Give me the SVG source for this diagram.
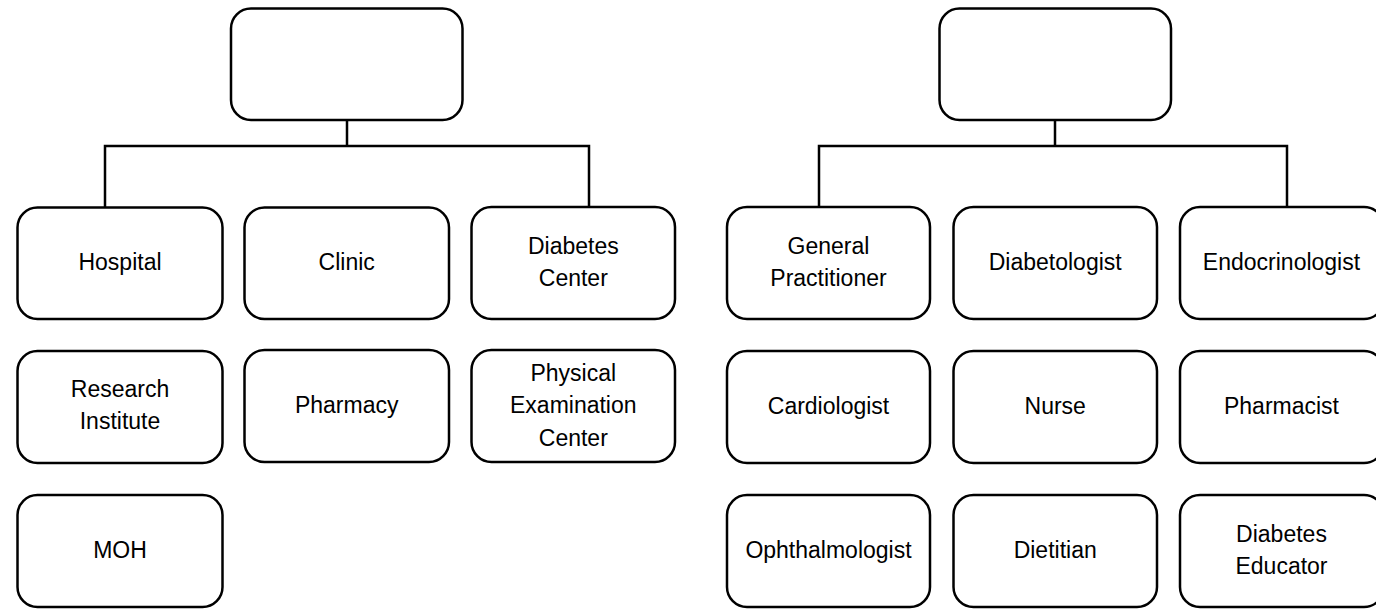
<svg xmlns="http://www.w3.org/2000/svg" width="1376" height="609" viewBox="0 0 1376 609">
<style>
.box{fill:#fff;stroke:#000;stroke-width:2.5}
.lbl{font-family:"Liberation Sans",Arial,sans-serif;font-size:23px;fill:#000;text-anchor:middle}
.con{fill:none;stroke:#000;stroke-width:2.5}
</style>
<rect width="1376" height="609" fill="#fff"/>
<g id="connectors">
<path class="con" d="M347,120 V146 M105,207 V146 H589 V207"/>
<path class="con" d="M1055,120 V146 M819,207 V146 H1287 V207"/>
</g>
<g id="root-left"><rect class="box" x="231" y="8.5" width="231.5" height="111.5" rx="20"/></g>
<g id="root-right"><rect class="box" x="939.5" y="8.5" width="231.5" height="111.5" rx="20"/></g>

<g id="hospital"><rect class="box" x="17.5" y="207.5" width="205" height="111.5" rx="20"/><text class="lbl" x="120" y="270">Hospital</text></g>
<g id="clinic"><rect class="box" x="244.5" y="207.5" width="204.5" height="111.5" rx="20"/><text class="lbl" x="346.7" y="270">Clinic</text></g>
<g id="diabetes-center"><rect class="box" x="471.5" y="207" width="203.5" height="112" rx="20"/><text class="lbl" x="573.3" y="254">Diabetes</text><text class="lbl" x="573.3" y="286">Center</text></g>

<g id="research-institute"><rect class="box" x="17.5" y="351" width="205" height="112" rx="20"/><text class="lbl" x="120" y="397">Research</text><text class="lbl" x="120" y="429">Institute</text></g>
<g id="pharmacy"><rect class="box" x="244.5" y="350" width="204.5" height="112" rx="20"/><text class="lbl" x="346.7" y="413">Pharmacy</text></g>
<g id="physical-exam"><rect class="box" x="471.5" y="350" width="203.5" height="112" rx="20"/><text class="lbl" x="573.3" y="380.5">Physical</text><text class="lbl" x="573.3" y="413">Examination</text><text class="lbl" x="573.3" y="445.5">Center</text></g>

<g id="moh"><rect class="box" x="17.5" y="495" width="205" height="112" rx="20"/><text class="lbl" x="120" y="558">MOH</text></g>

<g id="gp"><rect class="box" x="727" y="207" width="203" height="112" rx="20"/><text class="lbl" x="828.5" y="254">General</text><text class="lbl" x="828.5" y="286">Practitioner</text></g>
<g id="diabetologist"><rect class="box" x="953.5" y="207" width="203.5" height="112" rx="20"/><text class="lbl" x="1055.2" y="270">Diabetologist</text></g>
<g id="endocrinologist"><rect class="box" x="1180" y="207" width="204" height="112" rx="20"/><text class="lbl" x="1281.5" y="270">Endocrinologist</text></g>

<g id="cardiologist"><rect class="box" x="727" y="351" width="203" height="112" rx="20"/><text class="lbl" x="828.5" y="414">Cardiologist</text></g>
<g id="nurse"><rect class="box" x="953.5" y="351" width="203.5" height="112" rx="20"/><text class="lbl" x="1055.2" y="414">Nurse</text></g>
<g id="pharmacist"><rect class="box" x="1180" y="351" width="204" height="112" rx="20"/><text class="lbl" x="1281.5" y="414">Pharmacist</text></g>

<g id="ophthalmologist"><rect class="box" x="727" y="495" width="203" height="112" rx="20"/><text class="lbl" x="828.5" y="558">Ophthalmologist</text></g>
<g id="dietitian"><rect class="box" x="953.5" y="495" width="203.5" height="112" rx="20"/><text class="lbl" x="1055.2" y="558">Dietitian</text></g>
<g id="diabetes-educator"><rect class="box" x="1180" y="495" width="204" height="112" rx="20"/><text class="lbl" x="1281.5" y="542">Diabetes</text><text class="lbl" x="1281.5" y="574">Educator</text></g>
</svg>
